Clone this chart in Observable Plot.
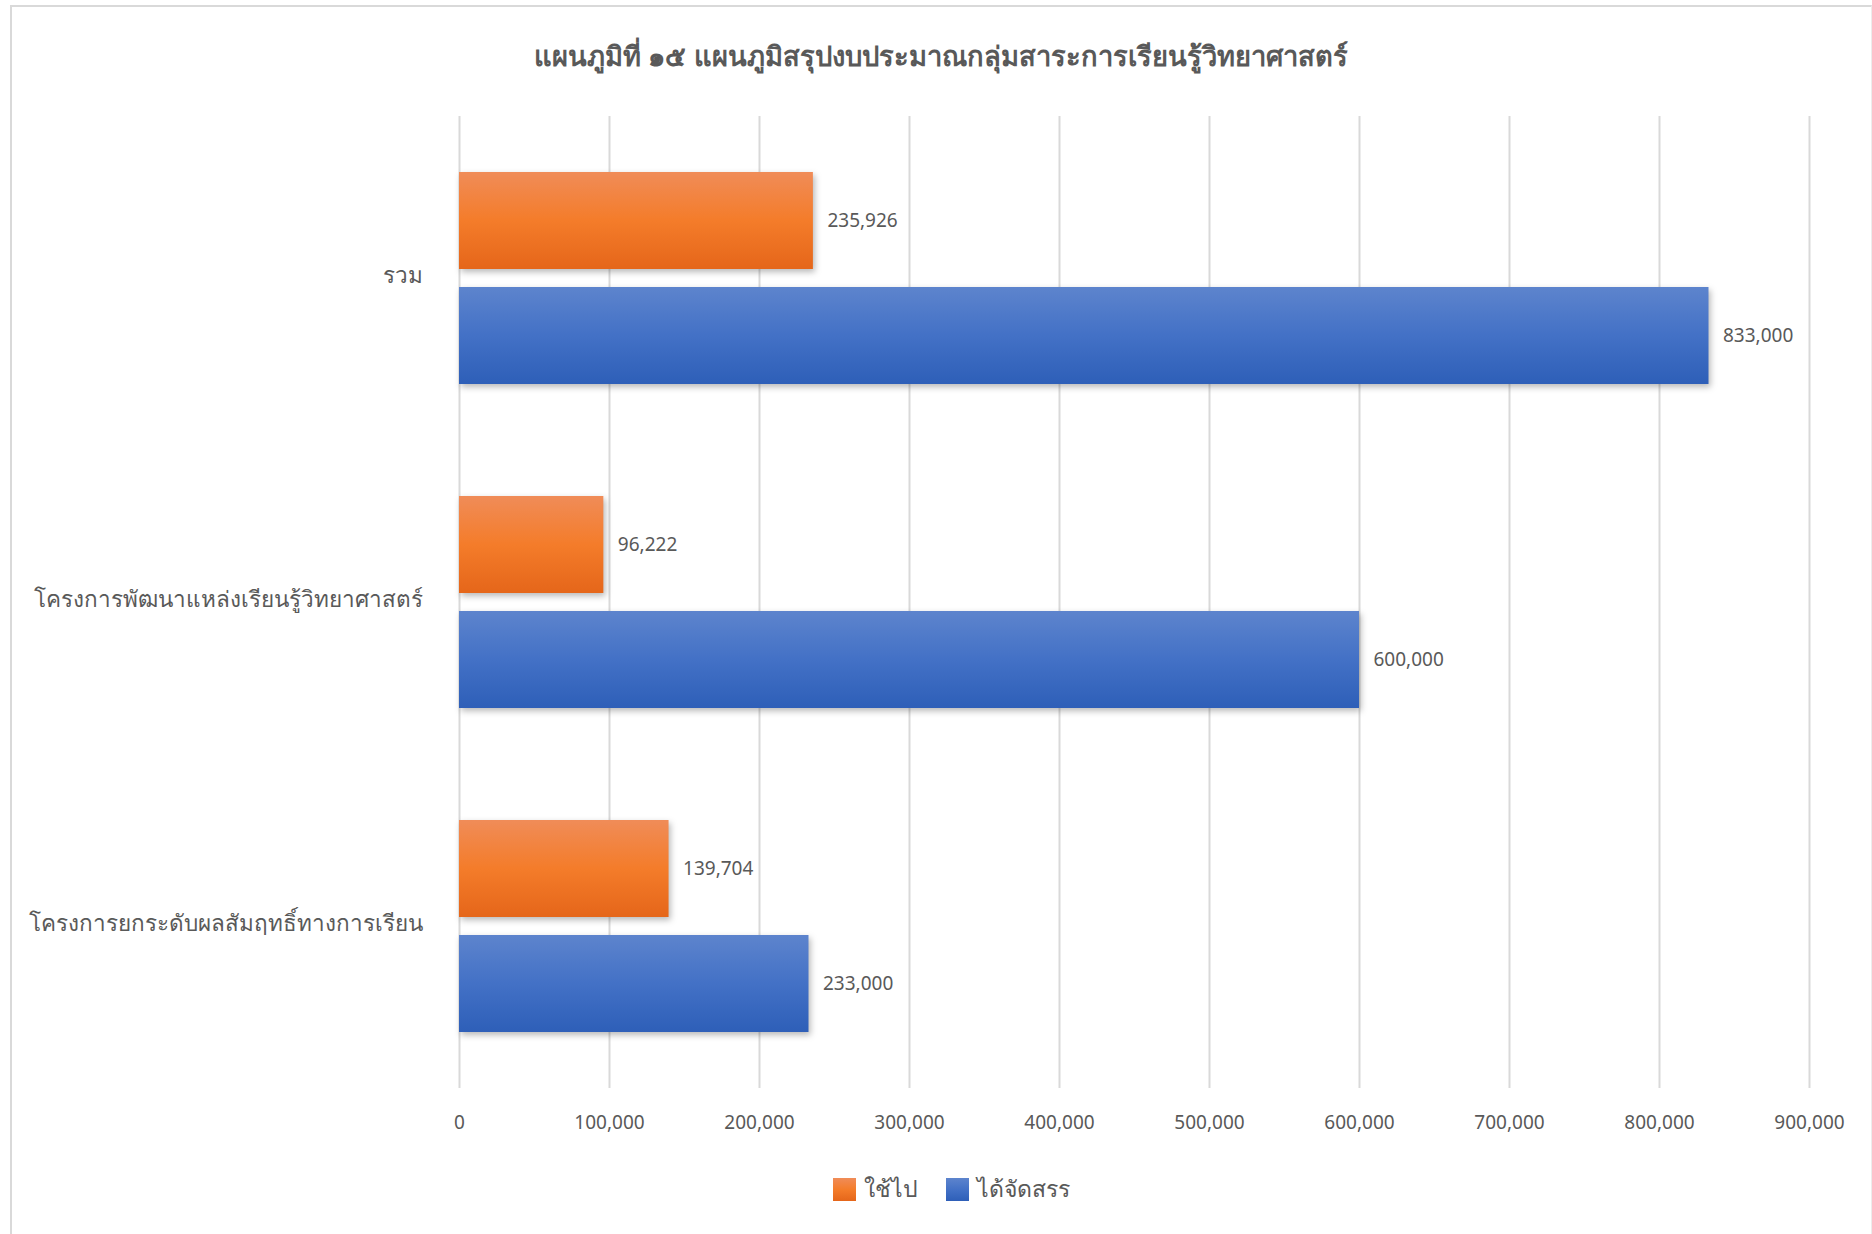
<!DOCTYPE html>
<html>
<head>
<meta charset="utf-8">
<script src="https://cdn.jsdelivr.net/npm/d3@7"></script>
<script src="https://cdn.jsdelivr.net/npm/@observablehq/plot@0.6"></script>
<style>
  html, body { margin: 0; padding: 0; background: #fff; }
  body { width: 1872px; height: 1234px; position: relative; overflow: hidden;
         font-family: "Segoe UI", "Noto Sans", "Open Sans", sans-serif; }
  #frame { position: absolute; left: 10px; top: 5px; width: 1859px; height: 1240px;
           border-left: 2px solid #d9d9d9; border-top: 2px solid #d9d9d9; border-right: 1px solid #ececec; }
  #title { position: absolute; left: 11px; width: 1860px; top: 35px; text-align: center;
           font-size: 27.3px; font-weight: bold; color: #595959; }
  #chart { position: absolute; left: 0; top: 0; }
  #legend { position: absolute; left: 0; width: 1872px; top: 1171px; display: flex; justify-content: center;
            align-items: center; gap: 28px; font-size: 23px; color: #595959; padding-left: 30px; box-sizing: border-box; }
  .item { display: flex; align-items: center; gap: 8px; }
  .sw { width: 23px; height: 23px; display: inline-block; }
</style>
</head>
<body>
<div id="frame"></div>
<div id="title"></div>
<div id="chart"></div>
<div id="legend"></div>
<script>
// ---- data ----
const titleText = "แผนภูมิที่ ๑๕ แผนภูมิสรุปงบประมาณกลุ่มสาระการเรียนรู้วิทยาศาสตร์";
const categories = ["รวม", "โครงการพัฒนาแหล่งเรียนรู้วิทยาศาสตร์", "โครงการยกระดับผลสัมฤทธิ์ทางการเรียน"];
const seriesNames = ["ใช้ไป", "ได้จัดสรร"];
const used = [235926, 96222, 139704];
const allocated = [833000, 600000, 233000];
const xTicks = [0, 100000, 200000, 300000, 400000, 500000, 600000, 700000, 800000, 900000];

const rows = [];
categories.forEach((c, i) => {
  rows.push({category: c, series: seriesNames[0], value: used[i]});
  rows.push({category: c, series: seriesNames[1], value: allocated[i]});
});

document.getElementById("title").textContent = titleText;

const fmt = d3.format(",");
const gray = "#595959";

const chart = Plot.plot({
  width: 1872,
  height: 1150,
  marginTop: 116,
  marginBottom: 62,
  marginLeft: 459,
  marginRight: 63,
  style: {fontFamily: '"Segoe UI", "Noto Sans", "Open Sans", sans-serif', background: "transparent"},
  x: {domain: [0, 900000], ticks: xTicks},
  fy: {domain: categories, padding: 0},
  y: {domain: seriesNames, paddingInner: 0.155, paddingOuter: 0.478, axis: null},
  marks: [
    Plot.gridX(xTicks, {stroke: "#d9d9d9", strokeOpacity: 1, strokeWidth: 2}),
    Plot.barX(rows.filter(d => d.series === seriesNames[0]),
      {x: "value", y: "series", fy: "category", fill: "url(#gOrange)"}),
    Plot.barX(rows.filter(d => d.series === seriesNames[1]),
      {x: "value", y: "series", fy: "category", fill: "url(#gBlue)"}),
    Plot.text(rows, {x: "value", y: "series", fy: "category", text: d => fmt(d.value),
      textAnchor: "start", dx: 14, fontSize: 19, fill: gray}),
    Plot.axisX({anchor: "bottom", ticks: xTicks, tickFormat: fmt, tickSize: 0, tickPadding: 27,
      fontSize: 19, fill: gray, label: null}),
    Plot.axisFy({anchor: "left", tickSize: 0, tickPadding: 37, dy: -3, fontSize: 22.5, fill: gray, label: null})
  ]
});

// gradients and shadows
const svg = d3.select(chart);
const defs = svg.insert("defs", ":first-child");
function grad(id, stops) {
  const g = defs.append("linearGradient").attr("id", id).attr("x1", 0).attr("y1", 0).attr("x2", 0).attr("y2", 1);
  stops.forEach(([o, c]) => g.append("stop").attr("offset", o).attr("stop-color", c));
}
grad("gOrange", [[0, "#f08c58"], [0.5, "#f47c2a"], [1, "#e5661a"]]);
grad("gBlue", [[0, "#5d84cd"], [0.5, "#4371c6"], [1, "#2e5fb8"]]);
svg.selectAll("g[aria-label='bar']").style("filter", "drop-shadow(2px 3px 3px rgba(0,0,0,0.28))");

document.getElementById("chart").appendChild(chart);

// legend
const legend = document.getElementById("legend");
const swatchFills = ["linear-gradient(#f08c58, #f47c2a 50%, #e5661a)", "linear-gradient(#5d84cd, #4371c6 50%, #2e5fb8)"];
seriesNames.forEach((s, i) => {
  const it = document.createElement("div");
  it.className = "item";
  const sw = document.createElement("span");
  sw.className = "sw";
  sw.style.background = swatchFills[i];
  const t = document.createElement("span");
  t.textContent = s;
  it.appendChild(sw); it.appendChild(t);
  legend.appendChild(it);
});
</script>
</body>
</html>
